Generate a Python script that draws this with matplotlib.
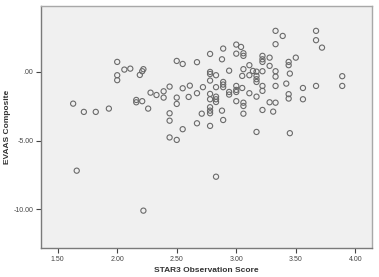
import matplotlib
matplotlib.use("Agg")
import matplotlib.pyplot as plt

plt.rcParams['font.family'] = ['Liberation Sans', 'DejaVu Sans']

# STAR3 Observation Score (x) and EVAAS Composite (y)
star3 = [2.00, 2.50, 2.55, 2.06, 2.11, 2.22, 2.21, 2.19, 2.00, 2.00,
         2.61, 2.44, 2.55, 2.39, 2.28, 2.33, 2.39, 2.50, 2.60, 2.16,
         2.16, 2.21, 2.50, 1.63, 1.72, 1.82, 1.93, 2.26, 2.44, 2.44,
         2.55, 2.44, 2.50, 1.66, 2.22, 2.83,
         3.33, 3.39, 3.67, 3.67, 3.72, 3.33, 3.00, 3.04, 2.89, 2.78,
         3.00, 3.06, 3.06, 2.88, 2.67, 3.22, 3.22, 3.22, 3.28, 3.50,
         3.44, 3.44, 3.11, 3.28, 3.06, 2.94, 2.78, 2.78, 2.83, 3.05,
         3.11, 3.14, 3.17, 3.22, 3.17, 3.17, 3.17, 3.33, 3.33, 3.45,
         3.89, 2.78, 2.89, 2.89, 2.89, 2.72, 2.83, 3.00, 3.00, 2.94,
         2.94, 3.05, 3.22, 3.33, 3.42, 3.56, 3.67, 3.89, 2.67, 2.78,
         2.83, 2.83, 2.83, 2.78, 3.00, 3.11, 3.22, 3.17, 3.44, 3.44,
         3.56, 3.00, 3.06, 3.06, 3.28, 3.33, 2.78, 2.78, 2.78, 2.88,
         3.22, 3.31, 3.06, 2.71, 2.89, 2.67, 2.78, 3.17, 3.45]
evaas = [0.73, 0.80, 0.58, 0.17, 0.24, 0.20, 0.05, -0.22, -0.24, -0.60,
         -1.00, -1.07, -1.19, -1.41, -1.51, -1.68, -1.87, -1.87, -1.82, -2.04,
         -2.21, -2.13, -2.33, -2.31, -2.91, -2.91, -2.67, -2.67, -3.01, -3.55,
         -4.17, -4.77, -4.95, -7.19, -10.10, -7.63,
         2.99, 2.62, 2.99, 2.31, 1.77, 2.02, 1.99, 1.82, 1.70, 1.31,
         1.33, 1.36, 1.17, 0.92, 0.71, 1.17, 0.92, 0.73, 1.04, 1.04,
         0.73, 0.49, 0.49, 0.44, 0.20, 0.09, 0.00, -0.15, -0.24, -0.29,
         -0.24, 0.07, 0.02, 0.05, -0.29, -0.53, -0.73, 0.05, -0.34, -0.12,
         -0.31, -0.63, -0.73, -0.92, -1.11, -1.11, -1.11, -1.02, -1.31, -1.46,
         -1.65, -1.17, -1.02, -1.02, -0.85, -1.17, -1.02, -1.02, -1.55, -1.60,
         -1.80, -1.99, -2.19, -1.99, -1.46, -1.55, -1.38, -1.80, -1.62, -1.94,
         -1.99, -2.13, -2.24, -2.48, -2.21, -2.24, -2.57, -2.82, -3.01, -2.82,
         -2.77, -2.89, -3.04, -3.04, -3.50, -3.74, -3.93, -4.37, -4.46]

xticks = [1.5, 2.0, 2.5, 3.0, 3.5, 4.0]
xticklabels = ["1.50", "2.00", "2.50", "3.00", "3.50", "4.00"]
yticks = [0.0, -5.0, -10.0]
yticklabels = [".00", "-5.00", "-10.00"]

fig = plt.figure(figsize=(3.79, 2.77), dpi=100)
fig.patch.set_facecolor("white")
ax = fig.add_axes([41/379, 1 - 248/277, (372 - 41)/379, (248 - 6)/277])
ax.set_facecolor("#f0f0f0")

ax.scatter(star3, evaas, s=14, facecolors="none", edgecolors="#6a6a6a",
           linewidths=0.8)

ax.set_xlim(1.36, 4.14)
ax.set_ylim(-12.82, 4.8)
ax.set_xticks(xticks)
ax.set_xticklabels(xticklabels)
ax.set_yticks(yticks)
ax.set_yticklabels(yticklabels)
ax.tick_params(axis="both", labelsize=5, colors="#444444", length=3.5,
               width=0.8, pad=2)

for side in ["left", "bottom"]:
    ax.spines[side].set_color("#7a7a7a")
    ax.spines[side].set_linewidth(1.0)
for side in ["top", "right"]:
    ax.spines[side].set_color("#a8a8a8")
    ax.spines[side].set_linewidth(1.0)

ax.set_xlabel("STAR3 Observation Score", fontsize=6, fontweight="bold",
              color="#333333", labelpad=3)
ax.set_ylabel("EVAAS Composite", fontsize=6, fontweight="bold",
              color="#333333", va="center")
ax.yaxis.set_label_coords(-(41 - 8) / 331, 0.5)

fig.savefig("out.png", dpi=100)
